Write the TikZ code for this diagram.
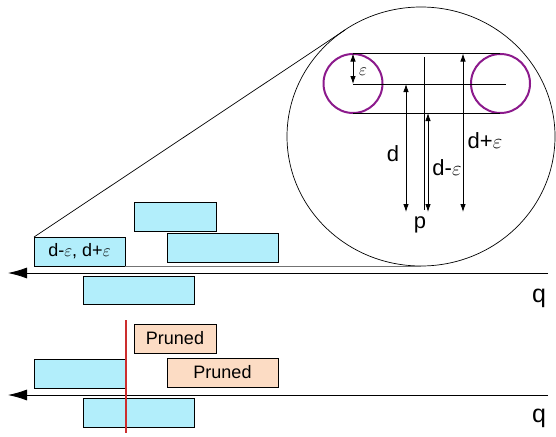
\documentclass[tikz,border=0pt]{standalone}
\usepackage{fontspec}
\setmainfont{Liberation Sans}
\usetikzlibrary{arrows.meta}
\definecolor{boxblue}{HTML}{B2EEFB}
\definecolor{boxpeach}{HTML}{FCDCC4}
\definecolor{ringpurple}{HTML}{8C1A8C}
\definecolor{cutred}{HTML}{CC2E2E}
\tikzset{
  seg/.style={draw=black, line width=0.8pt, inner sep=0pt, outer sep=0pt, anchor=north west},
  bluebox/.style={seg, fill=boxblue},
  peachbox/.style={seg, fill=boxpeach},
  lbl/.style={font=\fontsize{18}{20}\selectfont},
  biglbl/.style={font=\fontsize{22}{24}\selectfont, inner sep=0pt},
  qlbl/.style={font=\fontsize{25}{28}\selectfont, inner sep=0pt},
  axis/.style={line width=0.8pt, -{Latex[length=19pt,width=11pt]}},
  dim/.style={line width=0.8pt, {Latex[length=8pt,width=5.5pt]}-{Latex[length=8pt,width=5.5pt]}},
  thin/.style={line width=0.7pt},
  ring/.style={draw=ringpurple, line width=2pt}
}
\begin{document}
\begin{tikzpicture}[x=1pt,y=-1pt]
\useasboundingbox (0,0) rectangle (556,436);

% ---- upper strip ----
\node[bluebox, minimum width=91pt, minimum height=29pt, lbl] (A) at (34,237) {d-$\varepsilon$, d+$\varepsilon$};
\node[bluebox, minimum width=82pt, minimum height=29pt] (B) at (134,202) {};
\node[bluebox, minimum width=111pt, minimum height=29pt] (C) at (167,233) {};
\node[bluebox, minimum width=111pt, minimum height=28pt] (D) at (83,276) {};
\coordinate (q1r) at (548,273);
\coordinate (q1l) at (8,273);
\draw[axis] (q1r) -- (q1l);
\node[qlbl] (q1) at (539,298) {q};

% ---- magnifier ----
\coordinate (mc) at (421,136.5);
\draw[thin] (mc) ellipse [x radius=134, y radius=129.5];
\coordinate (t1) at (345,30);
\coordinate (t2) at (421,266);
\draw[thin] (A.north west) -- (t1);
\draw[line width=0.9pt, draw=black!55] (A.south east) -- (t2);

\coordinate (lc) at (353,83.5);
\coordinate (rc) at (500.5,83.5);
\draw[ring] (lc) circle [radius=29.5];
\draw[ring] (rc) circle [radius=29.5];

\coordinate (ltop) at (353,53.5);
\coordinate (rtop) at (500,53.5);
\coordinate (lmid) at (353,84);
\coordinate (rmid) at (506,84);
\coordinate (lbot) at (353,113);
\coordinate (rbot) at (500,113);
\draw[thin] (ltop) -- (rtop);
\draw[thin] (lmid) -- (rmid);
\draw[thin] (lbot) -- (rbot);

\draw[dim] (ltop) -- (lmid);
\node[font=\fontsize{16}{18}\selectfont, inner sep=0pt] (eps) at (363,72) {$\varepsilon$};

\coordinate (pt) at (424,57);
\coordinate (pb) at (424,210);
\draw[thin] (pt) -- (pb);

\coordinate (da) at (406,84);
\coordinate (db) at (406,212);
\draw[dim] (da) -- (db);
\coordinate (dma) at (428,113);
\coordinate (dmb) at (428,212);
\draw[dim] (dma) -- (dmb);
\coordinate (dpa) at (463,53.5);
\coordinate (dpb) at (463,212);
\draw[dim] (dpa) -- (dpb);

\node[biglbl] (dl) at (393,154) {d};
\node[biglbl] (dml) at (447,168) {d-$\varepsilon$};
\node[biglbl] (dpl) at (485,141) {d+$\varepsilon$};
\node[biglbl] (p) at (420,225) {p};

% ---- lower strip ----
\node[peachbox, minimum width=82pt, minimum height=29pt, lbl] (P1) at (134,324) {Pruned};
\node[peachbox, minimum width=111pt, minimum height=29pt, lbl] (P2) at (167,358) {Pruned};
\node[bluebox, minimum width=91pt, minimum height=29pt] (L) at (34,359) {};
\node[bluebox, minimum width=111pt, minimum height=29pt] (E) at (83,398) {};
\coordinate (q2r) at (548,395);
\coordinate (q2l) at (8,395);
\draw[axis] (q2r) -- (q2l);
\node[qlbl] (q2) at (539,418) {q};

\coordinate (cuttop) at (126,320);
\coordinate (cutbot) at (126,433);
\draw[draw=cutred, line width=1.5pt] (cuttop) -- (cutbot);
\end{tikzpicture}
\end{document}
